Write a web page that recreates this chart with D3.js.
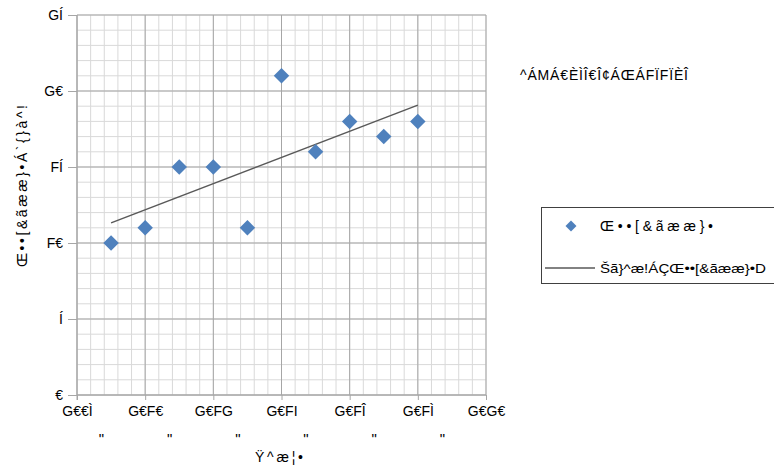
<!DOCTYPE html>
<html><head><meta charset="utf-8">
<script src="https://cdn.jsdelivr.net/npm/d3@7"></script>
<style>body{margin:0;background:#fff}svg{display:block}text{font-family:"Liberation Sans Narrow","Arial Narrow","Liberation Sans",sans-serif;fill:#000}</style>
</head><body><svg id="c" width="774" height="466"></svg>
<script>
const years = [2009,2010,2011,2012,2013,2014,2015,2016,2017,2018];
const counts = [10,11,15,15,11,21,16,18,17,18];
const xTickValues = [2008,2010,2012,2014,2016,2018,2020];
const xTickLabels = ["G€€Ì","G€F€","G€FG","G€FI","G€FÎ","G€FÌ","G€G€"];
const xTickSub = ['"','"','"','"','"','"',''];
const yTickValues = [0,5,10,15,20,25];
const yTickLabels = ["€","Í","F€","FÍ","G€","GÍ"];
const xTitle = "Ÿ^æ¦•";
const yTitle = "Œ••[&ãææ}•Á`{}à^!";
const seriesName = "Œ••[&ãææ}•";
const trendName = "Šã}^æ!ÁÇŒ••[&ãææ}•D";
const equation = "^ÁMÁ€ÈÌÎ€Î¢ÁŒÁFÏFÏÈÎ";

const svg = d3.select("#c");
const x = d3.scaleLinear().domain([2008,2020]).range([77,486]);
const y = d3.scaleLinear().domain([0,25]).range([395,15]);

// minor grid
const g = svg.append("g");
g.selectAll(".mx").data(d3.range(0,31).map(i=>2008+i*0.4)).join("line")
  .attr("x1",d=>x(d)).attr("x2",d=>x(d)).attr("y1",y(0)).attr("y2",y(25))
  .attr("stroke","#d9d9d9").attr("stroke-width",1);
g.selectAll(".my").data(d3.range(0,26)).join("line")
  .attr("x1",x(2008)).attr("x2",x(2020)).attr("y1",d=>y(d)).attr("y2",d=>y(d))
  .attr("stroke","#d9d9d9").attr("stroke-width",1);
// major grid
g.selectAll(".Mx").data(xTickValues).join("line")
  .attr("x1",d=>x(d)).attr("x2",d=>x(d)).attr("y1",y(0)).attr("y2",y(25))
  .attr("stroke","#a6a6a6").attr("stroke-width",1);
g.selectAll(".My").data(yTickValues).join("line")
  .attr("x1",x(2008)).attr("x2",x(2020)).attr("y1",d=>y(d)).attr("y2",d=>y(d))
  .attr("stroke","#a6a6a6").attr("stroke-width",1);

// axes
const yAxis = d3.axisLeft(y).tickValues(yTickValues).tickSize(9).tickPadding(5)
  .tickFormat((d,i)=>yTickLabels[i]);
const ya = svg.append("g").attr("transform",`translate(${x(2008)},0)`).call(yAxis);
ya.select(".domain").attr("stroke","#a6a6a6").attr("d",`M0,${y(25)}V${y(0)+5}`);
ya.selectAll(".tick line").attr("stroke","#a6a6a6");
ya.selectAll(".tick text").style("font-size","14px").attr("fill","#000");

const xAxis = d3.axisBottom(x).tickValues(xTickValues).tickSize(5).tickPadding(6)
  .tickFormat((d,i)=>xTickLabels[i]);
const xa = svg.append("g").attr("transform",`translate(0,${y(0)})`).call(xAxis);
xa.select(".domain").attr("stroke","#a6a6a6").attr("d",`M${x(2008)},0H${x(2020)}`);
xa.selectAll(".tick line").attr("stroke","#a6a6a6");
xa.selectAll(".tick text").style("font-size","14px").attr("fill","#000");
xa.selectAll(".tick").append("text").attr("x",24).attr("y",49)
  .style("font-size","15px").attr("fill","#000").attr("text-anchor","middle")
  .text((d,i)=>xTickSub[i]);

// titles
svg.append("text").attr("x",279).attr("y",462).attr("text-anchor","middle")
  .style("font-size","14px").attr("textLength",48).attr("lengthAdjust","spacing").text(xTitle);
svg.append("text").attr("transform","translate(27,186) rotate(-90)").attr("text-anchor","middle")
  .style("font-size","14px").attr("textLength",162).attr("lengthAdjust","spacing").text(yTitle);

// trend line (least squares from data)
const mx = d3.mean(years), my = d3.mean(counts);
const slope = d3.sum(years.map((v,i)=>(v-mx)*(counts[i]-my)))/d3.sum(years.map(v=>(v-mx)**2));
const icpt = my - slope*mx;
const xs = d3.extent(years);
svg.append("line").attr("x1",x(xs[0])).attr("x2",x(xs[1]))
  .attr("y1",y(slope*xs[0]+icpt)).attr("y2",y(slope*xs[1]+icpt))
  .attr("stroke","#595959").attr("stroke-width",1.5);

// points
svg.selectAll(".pt").data(years).join("path")
  .attr("d",d3.symbol().type(d3.symbolSquare).size(120))
  .attr("transform",(d,i)=>`translate(${x(d)},${y(counts[i])}) rotate(45)`)
  .attr("fill","#4f81bd");

// equation
svg.append("text").attr("x",520).attr("y",80).style("font-size","14px")
  .attr("textLength",168).attr("lengthAdjust","spacing").text(equation);

// legend
const lg = svg.append("g");
lg.append("rect").attr("x",541.5).attr("y",207.5).attr("width",250).attr("height",76)
  .attr("fill","#fff").attr("stroke","#404040").attr("stroke-width",1);
lg.append("path").attr("d",d3.symbol().type(d3.symbolSquare).size(60))
  .attr("transform","translate(571,226) rotate(45)").attr("fill","#4f81bd");
lg.append("text").attr("x",600).attr("y",231).style("font-size","14px")
  .attr("textLength",113).attr("lengthAdjust","spacing").text(seriesName);
lg.append("line").attr("x1",545).attr("x2",595).attr("y1",268).attr("y2",268)
  .attr("stroke","#595959").attr("stroke-width",1.5);
lg.append("text").attr("x",600).attr("y",273).style("font-size","13px")
  .attr("textLength",166).attr("lengthAdjust","spacingAndGlyphs").text(trendName);
</script></body></html>
